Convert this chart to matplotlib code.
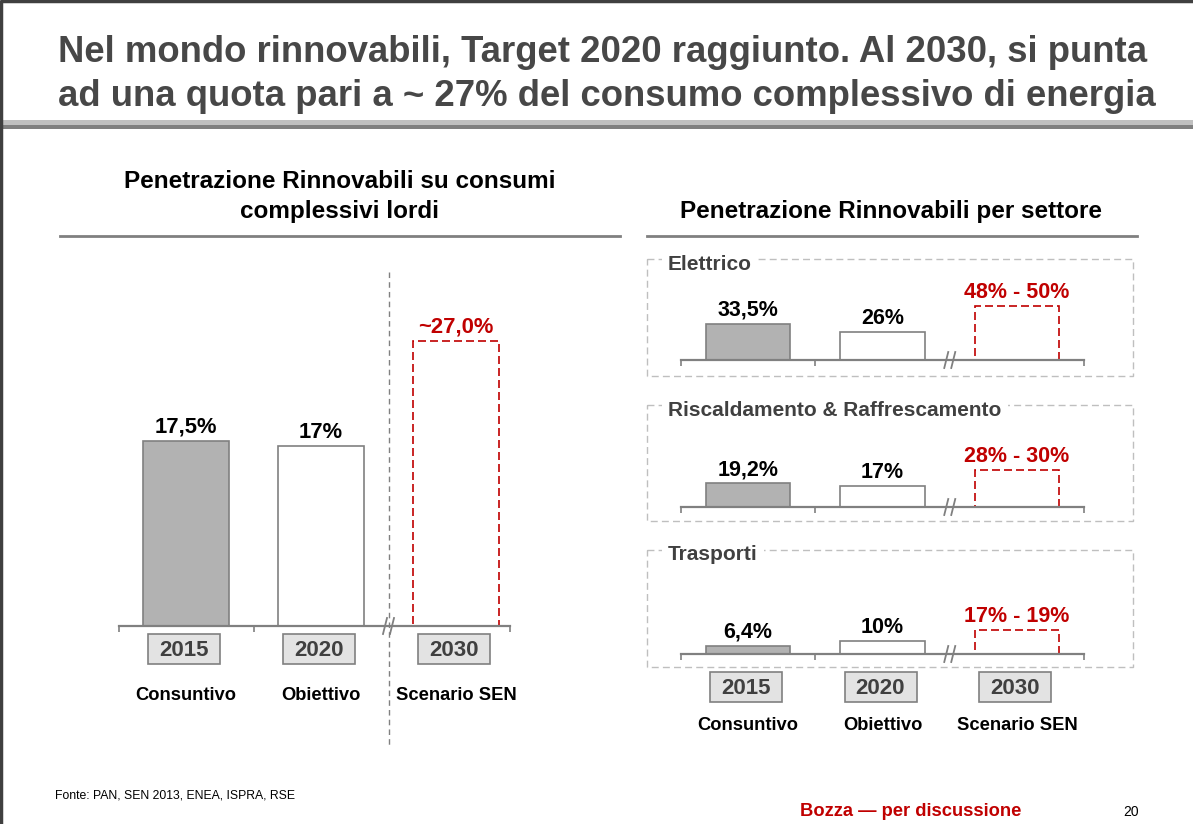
import matplotlib
matplotlib.use("Agg")
import matplotlib.pyplot as plt
from matplotlib.patches import Rectangle

W, H = 1193, 824
plt.rcParams["font.family"] = ["Liberation Sans", "DejaVu Sans"]

# ---- data -------------------------------------------------------------
years = ["2015", "2020", "2030"]
scenario_labels = ["Consuntivo", "Obiettivo", "Scenario SEN"]

total_values = [17.5, 17.0, 27.0]
total_labels = ["17,5%", "17%", "~27,0%"]

sectors = ["Elettrico", "Riscaldamento & Raffrescamento", "Trasporti"]
sector_2015 = [33.5, 19.2, 6.4]
sector_2020 = [26.0, 17.0, 10.0]
sector_2030_low = [48, 28, 17]
sector_2030_high = [50, 30, 19]

# ---- style ------------------------------------------------------------
GRAY_BAR = "#b2b2b2"
EDGE = "#808080"
RED = "#c00000"
DARK = "#404040"
TITLE_C = "#474747"
RED_DASH = (0, (4.8, 2.4))


def pct(v):
    return f"{v:g}".replace(".", ",") + "%"


fig = plt.figure(figsize=(W / 100, H / 100), dpi=100)
ov = fig.add_axes([0, 0, 1, 1])
ov.set_xlim(0, W)
ov.set_ylim(H, 0)
ov.axis("off")

# slide frame
ov.plot([1, 1], [0, H], color=DARK, lw=2.5, solid_capstyle="butt")
ov.plot([0, W], [1, 1], color=DARK, lw=2.5, solid_capstyle="butt")

# title
ov.text(603, 52, "Nel mondo rinnovabili, Target 2020 raggiunto. Al 2030, si punta",
        ha="center", va="center", fontsize=26.3, fontweight="bold", color=TITLE_C)
ov.text(607, 96, "ad una quota pari a ~ 27% del consumo complessivo di energia",
        ha="center", va="center", fontsize=26.3, fontweight="bold", color=TITLE_C)
ov.add_patch(Rectangle((2, 120), W, 5, color="#c0c0c0", lw=0))
ov.add_patch(Rectangle((2, 125), W, 3.5, color="#808080", lw=0))

# section headings
ov.text(340, 181, "Penetrazione Rinnovabili su consumi", ha="center", va="center",
        fontsize=17.5, fontweight="bold", color="black")
ov.text(340, 211, "complessivi lordi", ha="center", va="center",
        fontsize=17.5, fontweight="bold", color="black")
ov.plot([60, 620], [236, 236], color=EDGE, lw=2)
ov.text(891, 211, "Penetrazione Rinnovabili per settore", ha="center", va="center",
        fontsize=17.5, fontweight="bold", color="black")
ov.plot([647, 1137], [236, 236], color=EDGE, lw=2)

# vertical dashed separator (left chart)
ov.plot([389, 389], [272, 745], color=EDGE, lw=1, linestyle=(0, (4, 3)))


def data_axes(x0, x1, base, top, xlim, ylim, ticks):
    ax = fig.add_axes([x0 / W, 1 - base / H, (x1 - x0) / W, (base - top) / H])
    ax.set_xlim(xlim)
    ax.set_ylim(ylim)
    ax.patch.set_visible(False)
    for s in ["top", "right", "left"]:
        ax.spines[s].set_visible(False)
    ax.spines["bottom"].set_color(EDGE)
    ax.spines["bottom"].set_linewidth(1.6)
    ax.set_yticks([])
    ax.set_xticks(ticks)
    ax.tick_params(axis="x", direction="out", length=4, width=1.2, color=EDGE,
                   labelbottom=False)
    return ax


def draw_bars(ax, values, width, lw=1.2):
    bars = ax.bar(range(3), values, width=width, color=[GRAY_BAR, "white", "none"],
                  edgecolor=[EDGE, EDGE, RED], linewidth=lw, zorder=1)
    bars[2].set_linestyle(RED_DASH)
    return bars


def draw_break(ax):
    # "//" between 2020 and 2030 bars
    bx = ax.transData.transform((1.5, 0))
    cx, cy = bx[0], H - bx[1]
    for dx in (-3.5, 3.5):
        ov.plot([cx + dx - 2, cx + dx + 2], [cy + 8, cy - 8], color=EDGE, lw=1.3,
                zorder=5)


def label_bars(ax, values, labels, colors, size, offset=8):
    for i, (v, lab, c) in enumerate(zip(values, labels, colors)):
        ax.annotate(lab, xy=(i, v), xytext=(0, offset), textcoords="offset pixels",
                    ha="center", va="baseline", fontsize=size, fontweight="bold",
                    color=c, annotation_clip=False)


def year_boxes(ax, cy):
    for i, y in enumerate(years):
        cx = ax.transData.transform((i, 0))[0] - 2
        ov.add_patch(Rectangle((cx - 36, cy - 15), 72, 30, facecolor="#e3e3e3",
                               edgecolor=EDGE, lw=1.2))
        ov.text(cx, cy + 1, y, ha="center", va="center", fontsize=16,
                fontweight="bold", color=DARK)


def scenario_text(ax, cy):
    for i, s in enumerate(scenario_labels):
        cx = ax.transData.transform((i, 0))[0]
        ov.text(cx, cy, s, ha="center", va="center", fontsize=13.2,
                fontweight="bold", color="black")


# ---- left chart: total share ----------------------------------------
px_unit = 185 / 17.5
axL = data_axes(118.5, 510, 626, 296, (-0.5, 2.4), (0, 330 / px_unit),
                [-0.5, 0.5, 2.4])
draw_bars(axL, total_values, 0.63)
label_bars(axL, total_values, total_labels, ["black", "black", RED], 15.8)
draw_break(axL)
year_boxes(axL, 649)
scenario_text(axL, 696)

# ---- right panels: by sector ------------------------------------------
panel_boxes = [(259, 376), (405, 521), (550, 667)]
panel_base = [360, 507, 654]
panel_scale = [1.075, 1.23, 1.27]

for k, name in enumerate(sectors):
    top, bot = panel_boxes[k]
    ov.add_patch(Rectangle((647, top), 1133 - 647, bot - top, facecolor="none",
                           edgecolor="#bfbfbf", lw=1, linestyle=(0, (5, 3))))
    ov.text(668, top + 5, name, ha="left", va="center", fontsize=15,
            fontweight="bold", color=DARK,
            bbox=dict(boxstyle="square,pad=0.3", facecolor="white",
                      edgecolor="none"))

    base = panel_base[k]
    vals = [sector_2015[k], sector_2020[k], sector_2030_high[k]]
    labs = [pct(sector_2015[k]), pct(sector_2020[k]),
            f"{sector_2030_low[k]}% - {sector_2030_high[k]}%"]
    ax = data_axes(680.75, 1084.25, base, base - 60, (-0.5, 2.5),
                   (0, 60 / panel_scale[k]), [-0.5, 0.5, 2.5])
    draw_bars(ax, vals, 0.63)
    label_bars(ax, vals, labs, ["black", "black", RED], 15.5)
    draw_break(ax)

year_boxes(ax, 687)
scenario_text(ax, 726)

# ---- footer -------------------------------------------------------------
ov.text(55, 796, "Fonte: PAN, SEN 2013, ENEA, ISPRA, RSE", ha="left", va="center",
        fontsize=8.8, color="black")
ov.text(911, 812, "Bozza \u2014 per discussione", ha="center", va="center",
        fontsize=13.2, fontweight="bold", color=RED)
ov.text(1131, 812, "20", ha="center", va="center", fontsize=10, color="black")

fig.savefig("out.png", dpi=100)
